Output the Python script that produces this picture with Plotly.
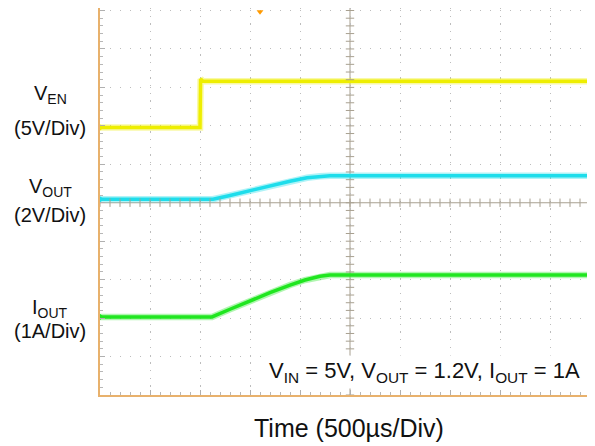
import plotly.graph_objects as go

# ---- data (time in µs, 500 µs/div; levels in screen divisions) ----
ven_t = [0, 1000, 1006, 1030, 5000]
ven_div = [6.96, 6.96, 8.22, 8.16, 8.16]

vout_t = [0, 1130, 1300, 1500, 1700, 1900, 2070, 2200, 2300, 5000]
vout_div = [5.09, 5.09, 5.19, 5.32, 5.45, 5.56, 5.65, 5.69, 5.70, 5.70]

iout_t = [0, 1120, 1300, 1500, 1700, 1900, 2050, 2200, 2300, 5000]
iout_div = [2.03, 2.03, 2.23, 2.45, 2.66, 2.86, 2.99, 3.09, 3.12, 3.12]

ref_marker_t = [0, 0, 0]
ref_marker_div = [6.96, 5.09, 2.03]
trig_t = [1600]
trig_div = [9.97]
cursor_t = [4910]
cursor_div = [2.42]

FONT = "Liberation Sans, Arial, sans-serif"
YEL, CYA, GRN = "#EEEE00", "#1EDDEB", "#20E620"
AXC = "#E8B16C"
GRIDC = "#BDBDBD"
CENC = "#A8A090"

# page is drawn with an 8px body margin; plot area spans window x 100..600, y 10.5..395
PW, PH = 500.0, 387.0


def px(X):
    return (X - 100) / PW


def py(Y):
    return (395 - Y) / PH


fig = go.Figure()

for t, v, c in [(ven_t, ven_div, YEL), (vout_t, vout_div, CYA), (iout_t, iout_div, GRN)]:
    fig.add_trace(go.Scatter(x=t, y=v, mode="lines", line=dict(color=c, width=6.5),
                             opacity=0.35, hoverinfo="skip", showlegend=False))
    fig.add_trace(go.Scatter(x=t, y=v, mode="lines", line=dict(color=c, width=3.5),
                             hoverinfo="skip", showlegend=False))

# center graticule ticks
ticks_y = [k * 0.2 for k in range(0, 51)]
ticks_x = [k * 100 for k in range(0, 51)]
fig.add_trace(go.Scatter(x=[2500] * len(ticks_y), y=ticks_y, mode="markers",
                         marker=dict(symbol="line-ew", size=6, line=dict(width=1, color=CENC)),
                         hoverinfo="skip", showlegend=False))
fig.add_trace(go.Scatter(x=ticks_x, y=[5] * len(ticks_x), mode="markers",
                         marker=dict(symbol="line-ns", size=6, line=dict(width=1, color=CENC)),
                         hoverinfo="skip", showlegend=False))

# channel reference markers
fig.add_trace(go.Scatter(x=ref_marker_t, y=ref_marker_div, mode="markers", cliponaxis=False,
                         marker=dict(symbol="triangle-right", size=8, color=[YEL, CYA, GRN]),
                         hoverinfo="skip", showlegend=False))
fig.add_trace(go.Scatter(x=trig_t, y=trig_div, mode="markers", cliponaxis=False,
                         marker=dict(symbol="triangle-down", size=6, color="#FF9A00"),
                         hoverinfo="skip", showlegend=False))
fig.add_trace(go.Scatter(x=cursor_t, y=cursor_div, mode="markers", cliponaxis=False,
                         marker=dict(symbol="diamond", size=5, color=GRN),
                         hoverinfo="skip", showlegend=False))

fig.add_shape(type="line", x0=2500, x1=2500, y0=0, y1=10.07, line=dict(color=CENC, width=1), layer="below")
fig.add_shape(type="line", x0=0, x1=5000, y0=5, y1=5, line=dict(color=CENC, width=1), layer="below")

ann = [
    ("V<sub>EN</sub>", 50, 95),
    ("(5V/Div)", 50, 128),
    ("V<sub>OUT</sub>", 50, 187),
    ("(2V/Div)", 50, 215),
    ("I<sub>OUT</sub>", 50, 308),
    ("(1A/Div)", 50, 331),
]
for text, X, Y in ann:
    fig.add_annotation(x=px(X), y=py(Y), xref="paper", yref="paper", text=text, showarrow=False,
                       xanchor="center", yanchor="middle", font=dict(family=FONT, size=20, color="#111111"))

fig.add_annotation(x=px(424), y=py(372), xref="paper", yref="paper",
                   text="V<sub>IN</sub> = 5V, V<sub>OUT</sub> = 1.2V, I<sub>OUT</sub> = 1A",
                   showarrow=False, xanchor="center", yanchor="middle", bgcolor="white", borderpad=2,
                   font=dict(family=FONT, size=22, color="#111111"))

fig.add_annotation(x=px(348.5), y=py(427.5), xref="paper", yref="paper", text="Time (500µs/Div)",
                   showarrow=False, xanchor="center", yanchor="middle",
                   font=dict(family=FONT, size=25, color="#111111"))

fig.update_layout(
    width=595, height=446,
    margin=dict(l=92, r=3, t=0, b=59),
    paper_bgcolor="white", plot_bgcolor="white",
    showlegend=False,
    xaxis=dict(range=[0, 5000], dtick=500, tick0=0, showgrid=True, gridcolor=GRIDC, gridwidth=1.3,
               griddash="1.3px,6.4px", zeroline=False, showline=True, linecolor=AXC, linewidth=2,
               ticks="inside", ticklen=5, tickcolor="#B0B0B0", tickwidth=1, showticklabels=False,
               minor=dict(ticks="inside", dtick=100, ticklen=3, tickcolor="#B8B8B8", showgrid=False)),
    yaxis=dict(range=[0, 10.065], dtick=1, tick0=0, showgrid=True, gridcolor=GRIDC, gridwidth=1.3,
               griddash="1.3px,8.7px", zeroline=False, showline=True, linecolor=AXC, linewidth=2,
               ticks="inside", ticklen=5, tickcolor="#B0B0B0", tickwidth=1, showticklabels=False,
               minor=dict(ticks="inside", dtick=0.2, ticklen=3, tickcolor="#B8B8B8", showgrid=False)),
)

fig.write_html("out.html")
